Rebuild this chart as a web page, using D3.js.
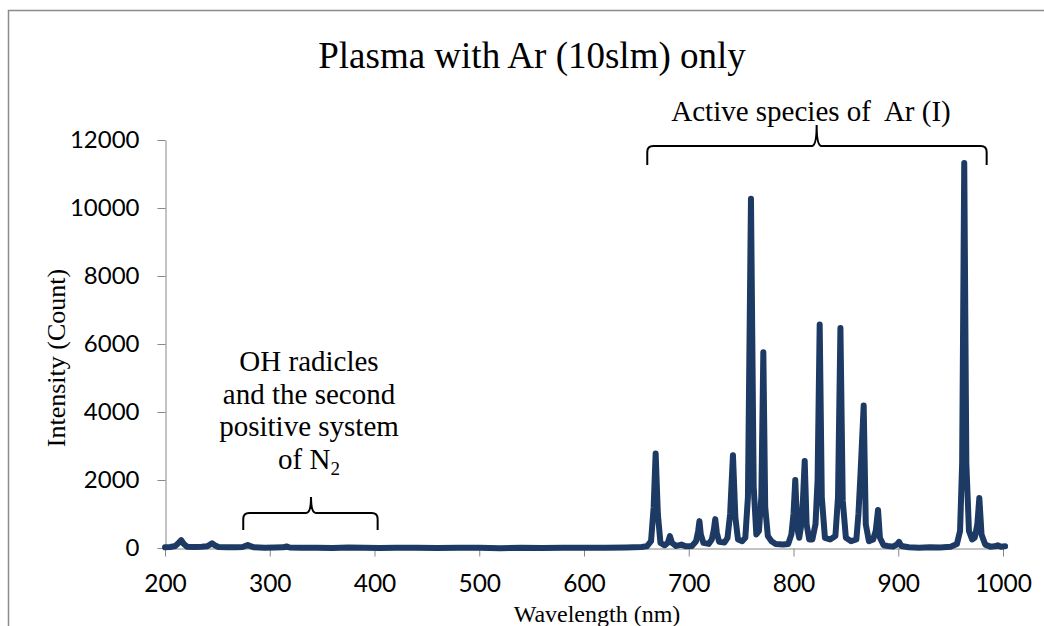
<!DOCTYPE html>
<html>
<head>
<meta charset="utf-8">
<script src="https://cdn.jsdelivr.net/npm/d3@7/dist/d3.min.js"></script>
<style>
  html, body { margin: 0; padding: 0; background: #ffffff; }
  svg { display: block; }
</style>
</head>
<body>
<svg id="chart" width="1044" height="626"></svg>
<script>
// Optical emission spectrum of an Ar plasma (10 slm), wavelength in nm vs. counts
const wavelength = [
  200, 205, 210, 213, 215.5, 218, 221, 228, 235, 240, 243, 245, 247, 251, 260, 268, 274, 277, 279, 281,
  285, 295, 305, 313, 316, 319, 330, 345, 360, 375, 390, 405, 420, 440, 460, 480, 500, 520, 540, 560,
  580, 600, 620, 640, 655, 660, 664, 666.5, 668.4, 670.5, 673, 677, 680, 682, 684, 688, 693, 697, 703, 707,
  709, 710.2, 711.5, 714, 719, 722, 724, 725.3, 726.8, 729, 734, 737, 739.5, 742.2, 744.5, 747, 751, 754, 756.5, 759.4,
  762, 764.5, 767, 769.3, 771.2, 773, 775.5, 779, 783, 790, 795, 798, 800, 801.7, 803.5, 805.5, 807.5, 809, 810.7, 812.5,
  815, 818, 821, 823, 825, 827, 830, 835, 840, 842.5, 844.8, 847, 850, 855, 860, 862, 864, 867, 869, 872,
  876, 878.5, 880.7, 882.5, 886, 890, 895, 898.5, 900.7, 903, 910, 920, 930, 940, 950, 956, 959, 961, 963, 965,
  967.5, 970.5, 973, 975.5, 977.4, 979.5, 983, 988, 992, 995, 998, 1002
];
const intensity = [
  20, 30, 60, 150, 230, 120, 40, 30, 35, 50, 100, 140, 90, 30, 20, 25, 30, 60, 90, 60,
  20, 10, 15, 20, 45, 15, 5, 10, 0, 15, 5, 0, 10, 5, 0, 10, 5, -5, 10, 0,
  5, 10, 5, 15, 30, 50, 200, 1200, 2780, 1000, 150, 80, 150, 350, 150, 60, 100, 50, 60, 200,
  500, 790, 400, 150, 120, 250, 550, 850, 450, 180, 160, 300, 1000, 2730, 900, 250, 200, 300, 1500, 10270,
  1800, 400, 500, 1500, 5760, 1200, 350, 200, 120, 100, 120, 400, 1000, 2000, 600, 300, 700, 1400, 2560, 700,
  250, 250, 700, 2000, 6570, 1500, 300, 250, 350, 1500, 6470, 1400, 300, 200, 250, 1000, 2200, 4190, 700, 200,
  250, 500, 1120, 300, 80, 60, 40, 100, 180, 60, 20, 10, 20, 15, 40, 120, 500, 2500, 11320, 2500,
  500, 250, 300, 700, 1470, 400, 100, 40, 50, 80, 40, 50
];

const xTicks = [200, 300, 400, 500, 600, 700, 800, 900, 1000];
const yTicks = [0, 2000, 4000, 6000, 8000, 10000, 12000];

// Bracket annotations, placed in data units: [start nm, end nm, apex nm, bar level, end level, apex level]
const bracketAr = [660.4, 984.4, 822.1, 11820, 11265, 12440];
const bracketOH = [274.7, 403.0, 339.4, 1030, 530, 1500];

const titleText = "Plasma with Ar (10slm) only";
const xLabel = "Wavelength (nm)";
const yLabel = "Intensity (Count)";
const arLabel = "Active species of  Ar (I)";
const ohLines = ["OH radicles", "and the second", "positive system", "of N"];

const svg = d3.select("#chart");
const serif = "'Liberation Serif', 'Times New Roman', serif";
const sans = "Lato, 'Open Sans', sans-serif";
const axisGray = "#878787";
const lineColor = "#1c3a63";

// Outer chart frame
svg.append("rect")
  .attr("x", 8.5).attr("y", 10.5)
  .attr("width", 1100).attr("height", 700)
  .attr("fill", "none").attr("stroke", "#8c8c8c").attr("stroke-width", 1.5);

const x = d3.scaleLinear().domain([200, 1000]).range([165, 1003]);
const y = d3.scaleLinear().domain([0, 12000]).range([548, 140]);

// Y axis
const gy = svg.append("g")
  .attr("transform", "translate(165.5,0)")
  .call(d3.axisLeft(y).tickValues(yTicks).tickSize(8).tickPadding(18)
    .tickSizeOuter(0).tickFormat(d3.format("d")));
gy.select(".domain").attr("stroke", axisGray);
gy.selectAll(".tick line").attr("stroke", axisGray);
gy.selectAll(".tick text")
  .attr("font-family", sans).attr("font-size", 24).attr("fill", "#000");

// X axis
const gx = svg.append("g")
  .attr("transform", "translate(0,548.5)")
  .call(d3.axisBottom(x).tickValues(xTicks).tickSize(8).tickSizeOuter(0).tickFormat(d3.format("d")));
gx.select(".domain").attr("stroke", axisGray);
gx.selectAll(".tick line").attr("stroke", axisGray);
gx.selectAll(".tick text")
  .attr("font-family", sans).attr("font-size", 24.5).attr("fill", "#000")
  .attr("y", 43).attr("dy", null);

// Spectrum line
const pts = wavelength.map((w, i) => [w, intensity[i]]);
svg.append("path")
  .datum(pts)
  .attr("fill", "none")
  .attr("stroke", lineColor)
  .attr("stroke-width", 6)
  .attr("stroke-linejoin", "round")
  .attr("stroke-linecap", "round")
  .attr("d", d3.line().x(d => x(d[0])).y(d => y(d[1])));

// Title
svg.append("text")
  .attr("x", 532).attr("y", 68)
  .attr("text-anchor", "middle")
  .attr("font-family", serif).attr("font-size", 37)
  .text(titleText);

// Axis titles
svg.append("text")
  .attr("x", 597).attr("y", 622)
  .attr("text-anchor", "middle")
  .attr("font-family", serif).attr("font-size", 24)
  .text(xLabel);

svg.append("text")
  .attr("transform", "translate(65,358) rotate(-90)")
  .attr("text-anchor", "middle")
  .attr("font-family", serif).attr("font-size", 26)
  .text(yLabel);

// Curly bracket drawn as a path between two data positions
function bracket(b) {
  const [w0, w1, wm, vBar, vEnd, vTip] = b;
  const x0 = x(w0), x1 = x(w1), xm = x(wm);
  const yb = y(vBar), ye = y(vEnd), yt = y(vTip);
  const r = 6, rt = 5;
  const p = d3.path();
  p.moveTo(x0, ye);
  p.lineTo(x0, yb + r);
  p.quadraticCurveTo(x0, yb, x0 + r, yb);
  p.lineTo(xm - rt, yb);
  p.quadraticCurveTo(xm, yb, xm, yt);
  p.quadraticCurveTo(xm, yb, xm + rt, yb);
  p.lineTo(x1 - r, yb);
  p.quadraticCurveTo(x1, yb, x1, yb + r);
  p.lineTo(x1, ye);
  return p.toString();
}

svg.append("path").attr("d", bracket(bracketAr))
  .attr("fill", "none").attr("stroke", "#000").attr("stroke-width", 2);
svg.append("path").attr("d", bracket(bracketOH))
  .attr("fill", "none").attr("stroke", "#000").attr("stroke-width", 2);

// Annotation: Ar lines
svg.append("text")
  .attr("x", 811).attr("y", 121)
  .attr("text-anchor", "middle")
  .attr("font-family", serif).attr("font-size", 29)
  .style("white-space", "pre")
  .text(arLabel);

// Annotation: OH / N2 region
const oh = svg.append("text")
  .attr("text-anchor", "middle")
  .attr("font-family", serif).attr("font-size", 29);
ohLines.forEach((t, i) => {
  const ts = oh.append("tspan").attr("x", 309).attr("y", 371 + i * 32.5).text(t);
  if (i === ohLines.length - 1) {
    ts.append("tspan").attr("font-size", 19).attr("dy", 6).text("2");
  }
});
</script>
</body>
</html>
